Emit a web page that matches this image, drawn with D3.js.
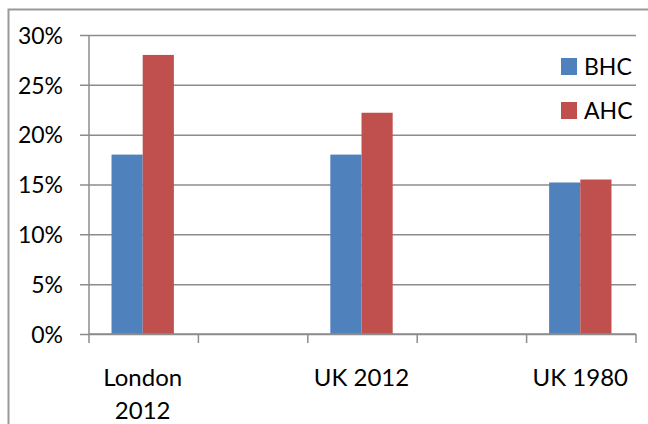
<!DOCTYPE html>
<html>
<head>
<meta charset="utf-8">
<script src="https://cdn.jsdelivr.net/npm/d3@7"></script>
<style>
  html, body { margin: 0; padding: 0; background: #fff; }
  svg { display: block; }
  text { font-family: Lato, "Liberation Sans", Arial, sans-serif; fill: #000; }
</style>
</head>
<body>
<svg id="chart" width="648" height="424"></svg>
<script>
// ---- data ----
const categories = ["London 2012", "", "UK 2012", "", "UK 1980"];
const seriesNames = ["BHC", "AHC"];
const bhcValues = [18.0, null, 18.0, null, 15.2];
const ahcValues = [28.0, null, 22.2, null, 15.5];
const yTickValues = [0, 5, 10, 15, 20, 25, 30];
const seriesColors = ["#4F81BD", "#C0504D"];

const svg = d3.select("#chart");
const plot = { left: 89, right: 636, top: 35, bottom: 334 };

// outer frame
svg.append("rect")
  .attr("x", 8.5).attr("y", 9.5)
  .attr("width", 700).attr("height", 500)
  .attr("fill", "none").attr("stroke", "#9a9a9a").attr("stroke-width", 2);

const x0 = d3.scaleBand().domain(d3.range(categories.length))
  .range([plot.left, plot.right]).paddingInner(0).paddingOuter(0);
const groupFrac = 0.57;
const x1 = d3.scaleBand().domain(seriesNames)
  .range([0, x0.bandwidth() * groupFrac]).padding(0);
const y = d3.scaleLinear().domain([0, 30]).range([plot.bottom, plot.top]);

// gridlines + y ticks
const yAxis = d3.axisLeft(y).tickValues(yTickValues)
  .tickSize(-(plot.right - plot.left)).tickSizeOuter(0)
  .tickFormat(d => d + "%");
const gy = svg.append("g").attr("transform", `translate(${plot.left},0)`).call(yAxis);
gy.select(".domain").remove();
gy.selectAll(".tick line").attr("stroke", "#8c8c8c").attr("stroke-width", 1.5)
  .attr("x1", -9);
gy.selectAll(".tick text").attr("font-size", 23).attr("font-family", "Lato, 'Liberation Sans', Arial, sans-serif")
  .attr("dy", "0.36em").attr("x", -26);

// y axis line
svg.append("line")
  .attr("x1", plot.left).attr("x2", plot.left)
  .attr("y1", plot.top).attr("y2", plot.bottom)
  .attr("stroke", "#8c8c8c").attr("stroke-width", 1.5);

// bars
const rows = categories.map((c, i) => ({ i, c, vals: [bhcValues[i], ahcValues[i]] }));
const groups = svg.append("g").selectAll("g").data(rows).join("g")
  .attr("transform", d => `translate(${x0(d.i) + x0.bandwidth() * (1 - groupFrac) / 2 - 1},0)`);
groups.selectAll("rect")
  .data(d => d.vals.map((v, k) => ({ v, k })).filter(e => e.v != null))
  .join("rect")
  .attr("x", e => x1(seriesNames[e.k]))
  .attr("width", x1.bandwidth())
  .attr("y", e => y(e.v))
  .attr("height", e => y(0) - y(e.v))
  .attr("fill", e => seriesColors[e.k]);

// x axis line and boundary ticks
svg.append("line")
  .attr("x1", plot.left).attr("x2", plot.right)
  .attr("y1", plot.bottom).attr("y2", plot.bottom)
  .attr("stroke", "#8c8c8c").attr("stroke-width", 1.5);
const boundaries = d3.range(categories.length + 1).map(i =>
  i < categories.length ? x0(i) : x0(categories.length - 1) + x0.bandwidth());
svg.append("g").selectAll("line").data(boundaries).join("line")
  .attr("x1", d => d).attr("x2", d => d)
  .attr("y1", plot.bottom).attr("y2", plot.bottom + 9)
  .attr("stroke", "#8c8c8c").attr("stroke-width", 1.5);

// category labels
const lineH = 33;
svg.append("g").selectAll("text").data(rows.filter(r => r.c)).join("text")
  .attr("text-anchor", "middle")
  .attr("font-size", 24)
  .attr("x", d => x0(d.i) + x0.bandwidth() / 2)
  .attr("y", 386)
  .each(function(d) {
    const t = d3.select(this);
    let lines = [d.c];
    if (d.c === "London 2012") lines = ["London", "2012"];
    lines.forEach((l, j) => t.append("tspan")
      .attr("x", x0(d.i) + x0.bandwidth() / 2 - 1)
      .attr("dy", j === 0 ? 0 : lineH).text(l));
  });

// legend
const legend = svg.append("g");
seriesNames.forEach((s, k) => {
  const yy = 58 + k * 44;
  legend.append("rect").attr("x", 561).attr("y", yy).attr("width", 16).attr("height", 17)
    .attr("fill", seriesColors[k]);
  legend.append("text").attr("x", 584).attr("y", yy + 17).attr("font-size", 23).text(s);
});
</script>
</body>
</html>
